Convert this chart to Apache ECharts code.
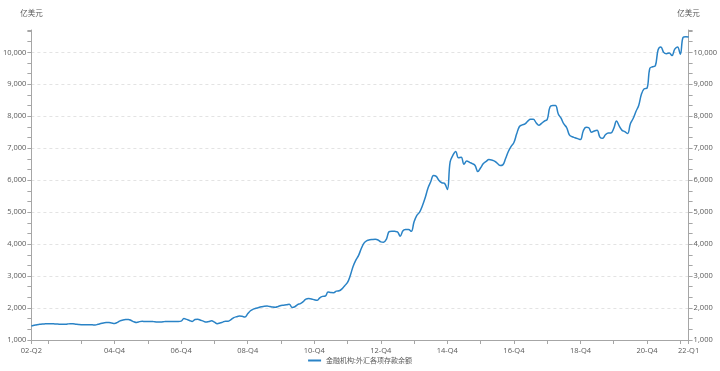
<!DOCTYPE html>
<html>
<head>
<meta charset="utf-8">
<script src="https://cdn.jsdelivr.net/npm/echarts@6/dist/echarts.min.js"></script>
<style>html,body{margin:0;padding:0;background:#fff;}#main{width:720px;height:371px;}</style>
</head>
<body>
<div id="main"></div>
<script>
// Monthly categories from 2002-04 to 2022-01
const startYear = 2002, startMonth = 4, monthCount = 238;
const categories = [];
for (let k = 0; k < monthCount; k++) {
  const m = startMonth - 1 + k;
  const y = startYear + Math.floor(m / 12);
  const mm = (m % 12) + 1;
  categories.push(y + '-' + (mm < 10 ? '0' + mm : mm));
}
const tickLabels = ['02-Q2','04-Q4','06-Q4','08-Q4','10-Q4','12-Q4','14-Q4','16-Q4','18-Q4','20-Q4','22-Q1'];
const seriesName = '金融机构:外汇各项存款余额';
const unitName = '亿美元';
const values = [
  1440,1460,1480,1490,1500,1505,1510,1510,1505,1500,1495,1490,
  1490,1500,1510,1505,1495,1485,1480,1480,1480,1480,1475,1470,
  1490,1515,1535,1550,1545,1530,1520,1550,1600,1625,1640,1645,
  1610,1570,1550,1575,1585,1580,1580,1580,1575,1565,1560,1565,
  1575,1580,1580,1580,1580,1580,1590,1670,1645,1610,1580,1640,
  1650,1620,1590,1560,1580,1600,1560,1510,1530,1560,1590,1590,
  1640,1700,1730,1750,1740,1720,1820,1915,1965,1995,2020,2040,
  2055,2060,2045,2030,2025,2050,2080,2090,2100,2120,2020,2040,
  2110,2140,2200,2280,2295,2285,2260,2240,2320,2365,2375,2500,
  2485,2480,2530,2540,2600,2700,2800,3020,3300,3500,3650,3870,
  4040,4110,4135,4145,4150,4130,4070,4060,4150,4390,4405,4400,
  4385,4250,4420,4455,4460,4400,4700,4900,5000,5200,5450,5750,
  5950,6150,6120,5990,5920,5900,5710,6570,6780,6900,6700,6720,
  6500,6600,6560,6520,6460,6270,6390,6520,6590,6645,6630,6600,
  6530,6460,6480,6680,6900,7060,7180,7450,7680,7730,7760,7850,
  7905,7905,7800,7720,7780,7850,7900,8290,8335,8335,8070,7940,
  7760,7650,7420,7360,7330,7300,7270,7540,7660,7640,7500,7540,
  7560,7350,7310,7420,7480,7480,7620,7850,7690,7560,7520,7460,
  7770,7930,8150,8340,8700,8860,8880,9500,9550,9580,10080,10170,
  10000,9960,9980,9900,10100,10170,9940,10470,10490,10480
];

function toQuarter(c) {
  const y = c.slice(2, 4);
  const m = parseInt(c.slice(5, 7), 10);
  return y + '-Q' + Math.ceil(m / 3);
}
function isLabel(idx, c) {
  const m = parseInt(c.slice(5, 7), 10);
  return (m % 3 === 1) && tickLabels.indexOf(toQuarter(c)) >= 0;
}
function isTick(idx, c) {
  const m = parseInt(c.slice(5, 7), 10);
  return idx === 0 || idx === categories.length - 1 || m === 10;
}

const FONT = '"Open Sans", "Noto Sans CJK SC", sans-serif';
const axisGray = '#a6a6a6';
const labelColor = '#595959';
const lineColor = '#2a83c6';

function yAxisCfg(pos, split) {
  return {
    type: 'value', position: pos, min: 1000, max: 10700, interval: 1000,
    name: unitName, nameLocation: 'end', nameGap: 12,
    nameTextStyle: { color: labelColor, fontSize: 7.5, fontFamily: FONT, align: 'center' },
    axisLine: { show: true, lineStyle: { color: axisGray, width: 1 } },
    axisTick: { show: true, length: 4, lineStyle: { color: axisGray } },
    minorTick: { show: true, splitNumber: 3, length: 4, lineStyle: { color: axisGray } },
    axisLabel: { color: labelColor, fontSize: 7.5, fontFamily: FONT, margin: 5, showMaxLabel: false,
      formatter: v => v.toLocaleString('en-US') },
    splitLine: { show: split, showMaxLine: false, lineStyle: { color: '#e3e3e3', type: [3, 3], width: 1 } }
  };
}

const chart = echarts.init(document.getElementById('main'), null, { renderer: 'canvas' });
chart.setOption({
  animation: false,
  textStyle: { fontFamily: FONT },
  grid: { left: 30, right: 30, top: 30, bottom: 31, containLabel: false },
  legend: {
    bottom: 2, left: 'center', icon: 'rect', itemWidth: 13, itemHeight: 2, itemGap: 10,
    textStyle: { color: labelColor, fontSize: 7, fontFamily: FONT },
    itemStyle: { color: lineColor },
    data: [seriesName]
  },
  xAxis: {
    type: 'category', data: categories, boundaryGap: false,
    axisLine: { lineStyle: { color: axisGray } },
    axisTick: { show: true, length: 4, interval: isTick, lineStyle: { color: axisGray } },
    axisLabel: { interval: isLabel, formatter: toQuarter, color: labelColor, fontSize: 7.5, fontFamily: FONT, margin: 7 }
  },
  yAxis: [yAxisCfg('left', true), yAxisCfg('right', false)],
  series: [{
    name: seriesName, type: 'line', data: values, yAxisIndex: 0,
    symbol: 'none', smooth: 0.4,
    lineStyle: { color: lineColor, width: 1.5 },
    itemStyle: { color: lineColor }
  }]
});
</script>
</body>
</html>
